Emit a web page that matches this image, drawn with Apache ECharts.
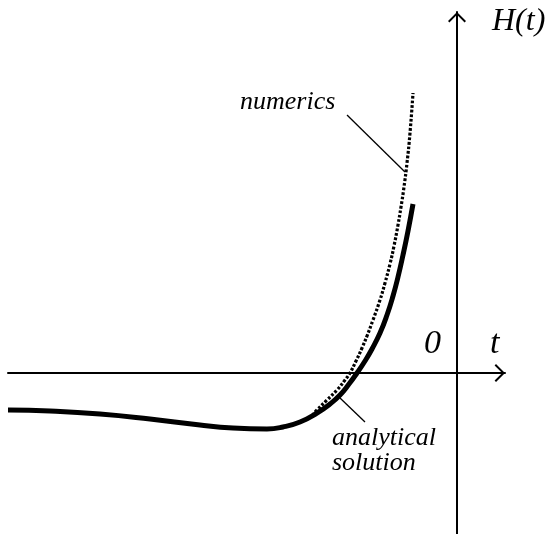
<!DOCTYPE html>
<html>
<head>
<meta charset="utf-8">
<script src="https://cdn.jsdelivr.net/npm/echarts@6/dist/echarts.min.js"></script>
<style>
html,body{margin:0;padding:0;background:#fff;}
#chart{width:550px;height:534px;}
</style>
</head>
<body>
<div id="chart"></div>
<script>
// t values and H(t) values (arbitrary units)
const analyticalT = [-8.98, -8.14, -7.14, -6.14, -5.14, -4.48, -3.80, -3.48, -3.14, -2.80, -2.54, -2.34, -2.16, -2.00, -1.84, -1.70, -1.54, -1.40, -1.28, -1.18, -1.08, -0.98, -0.88];
const analyticalH = [-0.74, -0.76, -0.82, -0.92, -1.04, -1.10, -1.12, -1.08, -0.98, -0.80, -0.62, -0.44, -0.22, 0.00, 0.24, 0.48, 0.80, 1.16, 1.54, 1.92, 2.36, 2.84, 3.38];
const numericsT = [-3.14, -2.94, -2.80, -2.60, -2.40, -2.24, -2.14, -2.02, -1.90, -1.80, -1.68, -1.54, -1.44, -1.34, -1.26, -1.18, -1.12, -1.06, -1.00, -0.94, -0.88];
const numericsH = [-0.98, -0.88, -0.74, -0.54, -0.34, -0.14, 0.00, 0.24, 0.50, 0.74, 1.06, 1.46, 1.80, 2.18, 2.54, 2.96, 3.32, 3.72, 4.20, 4.80, 5.60];
// annotation leader lines (t, H)
const numericsLeaderT = [-2.20, -1.04];
const numericsLeaderH = [5.16, 4.02];
const analyticalLeaderT = [-2.34, -1.84];
const analyticalLeaderH = [-0.50, -0.98];
// texts
const xName = 't';
const yName = 'H(t)';
const originLabel = '0';
const numericsLabel = 'numerics';
const analyticalLabel = ['analytical', 'solution'];

const zip = (a, b) => a.map((v, i) => [v, b[i]]);
const chevron = 'path://M9,0 L18,9 L16.6,10.4 L9,2.8 L1.4,10.4 L0,9 Z';
const axisLineCommon = {
  show: true,
  onZero: true,
  symbol: ['none', chevron],
  symbolSize: [18, 10.4],
  symbolOffset: [0, -5.2],
  lineStyle: { color: '#000', width: 2 }
};

const chart = echarts.init(document.getElementById('chart'), null, { renderer: 'canvas' });
const serifItalic = (size) => 'italic ' + size + 'px "Liberation Serif", "DejaVu Serif", serif';

chart.setOption({
  animation: false,
  backgroundColor: '#fff',
  grid: { left: 8, right: 45, top: 12, bottom: 0, containLabel: false },
  xAxis: {
    type: 'value', min: -8.98, max: 0.96,
    axisLine: axisLineCommon,
    axisTick: { show: false }, axisLabel: { show: false }, splitLine: { show: false }
  },
  yAxis: {
    type: 'value', min: -3.22, max: 7.22,
    axisLine: axisLineCommon,
    axisTick: { show: false }, axisLabel: { show: false }, splitLine: { show: false }
  },
  series: [
    {
      name: 'numerics', type: 'line', data: zip(numericsT, numericsH),
      showSymbol: false, smooth: 0.5, silent: true, z: 2,
      lineStyle: { color: '#000', width: 3.2, type: [2.8, 1.8], cap: 'butt' }
    },
    {
      name: 'analytical', type: 'line', data: zip(analyticalT, analyticalH),
      showSymbol: false, smooth: 0.5, silent: true, z: 3,
      lineStyle: { color: '#000', width: 5 }
    },
    {
      name: 'numericsLeader', type: 'line', data: zip(numericsLeaderT, numericsLeaderH),
      showSymbol: false, silent: true, z: 2,
      lineStyle: { color: '#000', width: 1.3 }
    },
    {
      name: 'analyticalLeader', type: 'line', data: zip(analyticalLeaderT, analyticalLeaderH),
      showSymbol: false, silent: true, z: 2,
      lineStyle: { color: '#000', width: 1.3 }
    }
  ],
  graphic: [
    { type: 'text', x: 492, y: 22, style: { text: yName, font: serifItalic(32), fill: '#000', align: 'left', verticalAlign: 'middle' } },
    { type: 'text', x: 490, y: 344, style: { text: xName, font: serifItalic(34), fill: '#000', align: 'left', verticalAlign: 'middle' } },
    { type: 'text', x: 424, y: 344, style: { text: originLabel, font: serifItalic(34), fill: '#000', align: 'left', verticalAlign: 'middle' } },
    { type: 'text', x: 240, y: 102, style: { text: numericsLabel, font: serifItalic(26), fill: '#000', align: 'left', verticalAlign: 'middle' } },
    { type: 'text', x: 332, y: 438, style: { text: analyticalLabel[0], font: serifItalic(26), fill: '#000', align: 'left', verticalAlign: 'middle' } },
    { type: 'text', x: 332, y: 463, style: { text: analyticalLabel[1], font: serifItalic(26), fill: '#000', align: 'left', verticalAlign: 'middle' } }
  ]
});
</script>
</body>
</html>
